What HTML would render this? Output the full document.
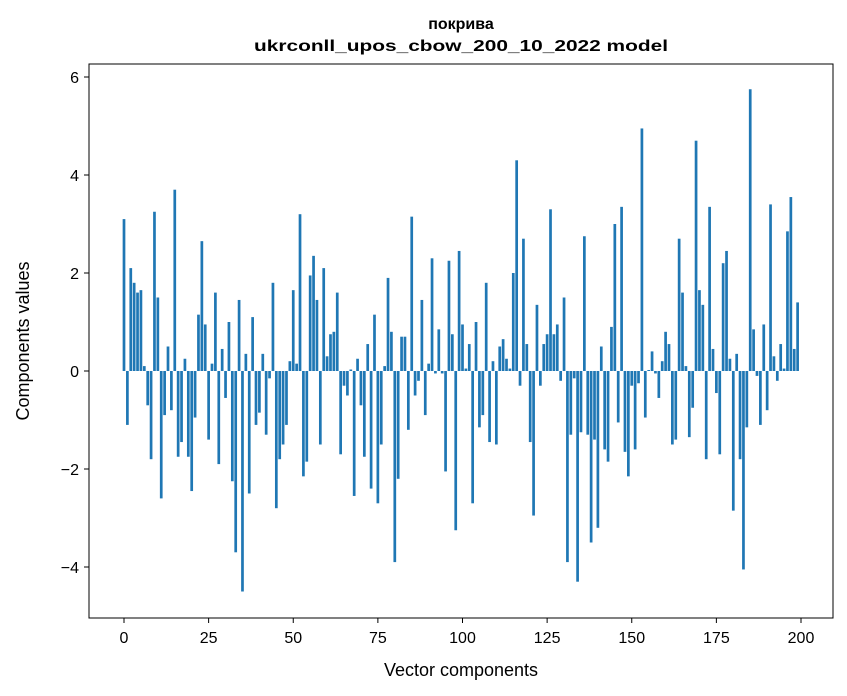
<!DOCTYPE html>
<html><head><meta charset="utf-8"><style>
html,body{margin:0;padding:0;background:#fff;}
svg{display:block;font-family:"Liberation Sans","DejaVu Sans",sans-serif;}
</style></head><body>
<svg id="chart" width="847" height="696" viewBox="0 0 847 696">
<rect width="847" height="696" fill="#fff"/>
<text x="461" y="29" text-anchor="middle" font-size="16" font-weight="bold">покрива</text>
<text x="461" y="51" text-anchor="middle" font-size="16" font-weight="bold" textLength="414" lengthAdjust="spacingAndGlyphs">ukrconll_upos_cbow_200_10_2022 model</text>
<g id="bars"></g>
<g id="axes"></g>
<rect x="89" y="64" width="744" height="554" fill="none" stroke="#000" stroke-width="1"/>
<text x="461" y="676" text-anchor="middle" font-size="18">Vector components</text>
<text transform="translate(29,341) rotate(-90)" text-anchor="middle" font-size="18">Components values</text>
</svg>
<script>
const values = [3.1,-1.1,2.1,1.8,1.6,1.65,0.1,-0.7,-1.8,3.25,1.5,-2.6,-0.9,0.5,-0.8,3.7,-1.75,-1.45,0.25,-1.75,
-2.45,-0.95,1.15,2.65,0.95,-1.4,0.15,1.6,-1.9,0.45,-0.55,1.0,-2.25,-3.7,1.45,-4.5,0.35,-2.5,1.1,-1.1,
-0.85,0.35,-1.3,-0.15,1.8,-2.8,-1.8,-1.5,-1.1,0.2,1.65,0.15,3.2,-2.15,-1.85,1.95,2.35,1.45,-1.5,2.1,
0.3,0.75,0.8,1.6,-1.7,-0.3,-0.5,0.03,-2.55,0.25,-0.7,-1.75,0.55,-2.4,1.15,-2.7,-1.5,0.1,1.9,0.8,
-3.9,-2.2,0.7,0.7,-1.2,3.15,-0.5,-0.2,1.45,-0.9,0.15,2.3,-0.05,0.85,-0.05,-2.05,2.25,0.75,-3.25,2.45,
0.95,0.05,0.55,-2.7,1.0,-1.15,-0.9,1.8,-1.45,0.2,-1.5,0.5,0.65,0.25,0.05,2.0,4.3,-0.3,2.7,0.55,
-1.45,-2.95,1.35,-0.3,0.55,0.75,3.3,0.75,0.95,-0.2,1.5,-3.9,-1.3,-0.15,-4.3,-1.25,2.75,-1.3,-3.5,-1.4,
-3.2,0.5,-1.6,-1.85,0.9,3.0,-1.05,3.35,-1.65,-2.15,-0.3,-1.6,-0.25,4.95,-0.95,0.02,0.4,-0.05,-0.55,0.2,
0.8,0.55,-1.5,-1.4,2.7,1.6,0.1,-1.35,-0.75,4.7,1.65,1.35,-1.8,3.35,0.45,-0.45,-1.7,2.2,2.45,0.25,
-2.85,0.35,-1.8,-4.05,-1.15,5.75,0.85,-0.1,-1.1,0.95,-0.8,3.4,0.3,-0.2,0.55,0.05,2.85,3.55,0.45,1.4];
const xTicks = [0,25,50,75,100,125,150,175,200];
const yTicks = [-4,-2,0,2,4,6];
const yTickLabels = ["\u22124","\u22122","0","2","4","6"];

const NS = "http://www.w3.org/2000/svg";
function xScale(i){ return 124 + i * (801 - 124) / 200; }
function yScale(v){ return 371 - v * 49; }
const bw = 0.8 * (801 - 124) / 200;
const barsG = document.getElementById('bars');
values.forEach((v, i) => {
  const r = document.createElementNS(NS, 'rect');
  const y0 = yScale(0), y1 = yScale(v);
  r.setAttribute('x', xScale(i) - bw / 2);
  r.setAttribute('y', Math.min(y0, y1));
  r.setAttribute('width', bw);
  r.setAttribute('height', Math.abs(y1 - y0));
  r.setAttribute('fill', '#1f77b4');
  
  
  barsG.appendChild(r);
});
const axesG = document.getElementById('axes');
xTicks.forEach(t => {
  const x = xScale(t);
  const l = document.createElementNS(NS, 'line');
  l.setAttribute('x1', x); l.setAttribute('x2', x);
  l.setAttribute('y1', 618); l.setAttribute('y2', 623);
  l.setAttribute('stroke', '#000');
  
  
  axesG.appendChild(l);
  const tx = document.createElementNS(NS, 'text');
  tx.setAttribute('x', x); tx.setAttribute('y', 643);
  tx.setAttribute('text-anchor', 'middle');
  tx.setAttribute('font-size', '16');
  tx.textContent = String(t);
  
  
  axesG.appendChild(tx);
});
yTicks.forEach((t, k) => {
  const y = yScale(t);
  const l = document.createElementNS(NS, 'line');
  l.setAttribute('x1', 84); l.setAttribute('x2', 89);
  l.setAttribute('y1', y); l.setAttribute('y2', y);
  l.setAttribute('stroke', '#000');
  
  
  axesG.appendChild(l);
  const tx = document.createElementNS(NS, 'text');
  tx.setAttribute('x', 79); tx.setAttribute('y', y + 6);
  tx.setAttribute('text-anchor', 'end');
  tx.setAttribute('font-size', '16');
  tx.textContent = yTickLabels[k];
  
  
  axesG.appendChild(tx);
});
</script>
</body></html>
